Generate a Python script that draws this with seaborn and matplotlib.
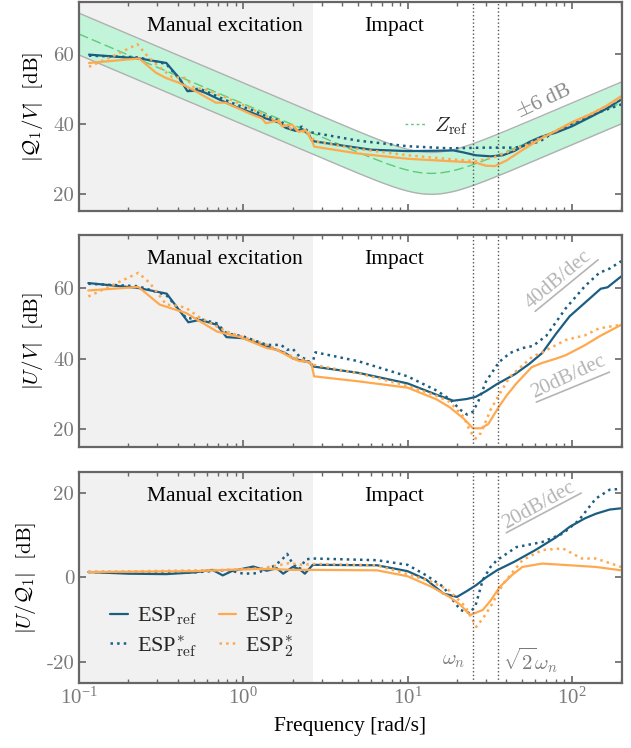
import numpy as np
import pandas as pd
import matplotlib
matplotlib.use("Agg")
import matplotlib.pyplot as plt
import matplotlib.transforms as mtransforms
from matplotlib.lines import Line2D
import seaborn as sns

# ---------------- data ----------------
# reference impedance Z_ref [dB]
z_f = [0.1, 0.15, 0.2, 0.3, 0.5, 1, 1.5, 2, 3, 4, 5, 6, 7, 8, 9, 10, 11, 12, 13, 14, 15, 16, 18, 20,
       22, 25, 30, 35, 40, 50, 60, 70, 80, 100, 120, 150, 200]
z_v = [65.80, 62.28, 59.78, 56.25, 51.81, 45.80, 42.28, 39.78, 36.26, 33.77, 31.86, 30.34, 29.11, 28.12,
       27.33, 26.73, 26.29, 26.00, 25.85, 25.80, 25.85, 25.96, 26.35, 26.86, 27.43, 28.30, 29.70, 30.96,
       32.08, 33.99, 35.56, 36.90, 38.06, 40.00, 41.58, 43.52, 46.02]
band_db = 6.0

# |Q1/V|
q_ref_f = [0.115, 0.232, 0.34, 0.407, 0.457, 0.538, 0.59, 0.746, 0.90, 1.13, 1.37, 1.65, 1.81, 2.08, 2.28,
           2.51, 2.63, 2.7, 4, 6, 10, 15, 19, 22, 26, 32, 38, 45, 55, 65, 80, 100, 130, 160, 200]
q_ref_v = [59.9, 58.8, 57.5, 53.2, 49.4, 49.6, 48.9, 46.6, 44.9, 43.2, 41.6, 40.4, 38.9, 38.0, 38.5,
           36.9, 35.1, 35.0, 33.8, 32.6, 32.2, 32.3, 32.4, 31.8, 31.0, 30.7, 31.0, 32.3, 34.8, 36.3, 37.5,
           39.3, 42.0, 44.2, 47.0]
q_refs_f = [0.115, 0.23, 0.34, 0.41, 0.46, 0.54, 0.6, 0.75, 0.9, 1.13, 1.37, 1.65, 1.8, 2.08, 2.28, 2.5,
            2.65, 5, 10, 18, 30, 45, 55, 65, 80, 100, 130, 160, 200]
q_refs_v = [59.6, 59.1, 57.2, 52.8, 49.8, 50.1, 49.3, 47.2, 45.6, 44.0, 42.3, 41.0, 39.8, 38.8, 39.2, 37.8,
            37.5, 35.2, 33.6, 33.0, 33.2, 33.2, 34.0, 35.2, 38.0, 40.0, 42.5, 44.0, 45.6]
q2_f = [0.115, 0.232, 0.294, 0.338, 0.407, 0.49, 0.68, 0.78, 1.13, 1.30, 1.37, 1.65, 1.72, 1.98, 2.18,
        2.39, 2.63, 2.7, 5, 10, 20, 26, 30, 34, 40, 50, 65, 80, 100, 130, 160, 200]
q2_v = [57.5, 58.8, 54.7, 53.2, 51.8, 49.9, 46.1, 46.1, 42.7, 41.6, 40.2, 41.0, 39.3, 39.8, 37.7,
        38.3, 35.0, 33.5, 31.5, 30.0, 29.2, 28.9, 28.0, 27.9, 29.5, 32.5, 35.8, 38.0, 40.5, 42.8, 45.0, 48.0]
q2s_f = [0.115, 0.16, 0.227, 0.255, 0.30, 0.37, 0.447, 0.50, 0.59, 0.78, 1.13, 1.37, 1.65, 1.98, 2.39,
         2.63, 2.7, 5, 10, 20, 26, 34, 40, 50, 65, 80, 100, 130, 160, 200]
q2s_v = [56.4, 59.4, 62.9, 60.0, 56.8, 53.4, 53.2, 50.5, 49.9, 47.6, 44.3, 42.3, 40.4, 38.5, 37.7,
         36.6, 35.0, 32.8, 31.0, 29.7, 29.3, 30.5, 31.8, 33.5, 36.0, 38.0, 40.3, 42.8, 45.0, 47.5]

# |U/V|
u_ref_f = [0.114, 0.23, 0.342, 0.463, 0.545, 0.69, 0.79, 1.0, 1.39, 1.8, 2.0, 2.37, 2.5, 2.65,
           5, 10, 15, 19, 23, 26, 30, 35, 45, 55, 66, 80, 97, 120, 150, 165, 200]
u_ref_v = [61.4, 60.0, 58.4, 50.3, 51.0, 49.6, 46.1, 45.8, 43.5, 41.6, 40.1, 39.2, 39.3, 37.8,
           36.0, 33.0, 29.8, 28.1, 28.6, 29.2, 30.8, 32.8, 35.6, 38.5, 41.6, 47.0, 52.0, 55.8, 59.8, 60.2, 63.3]
u_refs_f = [0.114, 0.23, 0.34, 0.45, 0.55, 0.69, 0.79, 1.0, 1.39, 1.7, 1.85, 2.0, 2.2, 2.45, 2.6, 2.75,
            5, 10, 15, 18, 21, 23, 25, 27, 30, 36, 42, 50, 58, 70, 92, 120, 147, 170, 200]
u_refs_v = [61.2, 60.5, 58.0, 51.5, 51.2, 50.0, 47.2, 46.3, 43.9, 43.9, 42.5, 42.8, 40.6, 39.7, 37.8, 41.8,
            39.3, 35.0, 31.0, 28.6, 25.5, 24.2, 25.0, 28.0, 33.5, 39.0, 41.6, 43.0, 43.6, 46.5, 54.3, 60.5,
            64.3, 65.5, 67.6]
u2_f = [0.114, 0.23, 0.31, 0.45, 0.69, 0.96, 1.39, 1.6, 2.0, 2.2, 2.43, 2.6, 2.7, 5, 10, 15, 18, 22, 25,
        28, 31, 36, 40, 46, 57, 66, 80, 92, 120, 147, 200]
u2_v = [59.3, 60.3, 55.3, 52.9, 47.7, 46.1, 43.0, 42.5, 40.1, 39.3, 39.2, 38.5, 35.0, 33.6, 31.8, 28.5,
        26.3, 23.0, 20.3, 20.3, 21.5, 26.4, 29.5, 33.0, 37.6, 38.8, 40.0, 41.0, 43.8, 46.3, 49.6]
u2s_f = [0.114, 0.23, 0.27, 0.34, 0.40, 0.45, 0.55, 0.79, 1.39, 2.0, 2.4, 2.65, 5, 10, 15, 18, 22, 24,
         26, 28, 32, 36, 42, 57.6, 66, 92, 120, 147, 200]
u2s_v = [57.6, 64.3, 61.4, 55.3, 55.0, 54.3, 51.5, 47.7, 43.9, 40.6, 39.5, 38.3, 35.9, 32.3, 29.5, 27.8,
         23.5, 19.5, 17.4, 19.0, 25.5, 29.7, 34.9, 40.6, 41.8, 45.3, 46.6, 48.6, 49.6]

# |U/Q1|
r_ref_f = [0.114, 0.2, 0.34, 0.5, 0.65, 0.75, 0.85, 1.15, 1.39, 1.6, 1.75, 2.0, 2.2, 2.37, 2.65,
           6.5, 10, 13, 16.5, 20, 23, 26.2, 30, 35, 45, 60, 80, 97, 120, 140, 170, 200]
r_ref_v = [1.3, 0.9, 0.8, 1.2, 1.8, 0.5, 1.5, 2.6, 1.6, 2.2, 0.9, 2.5, 2.0, 0.9, 3.0,
           2.9, 1.5, -0.5, -3.8, -4.6, -3.2, -1.8, 0.0, 1.7, 3.8, 6.5, 9.5, 12.0, 14.0, 15.1, 16.1, 16.4]
r_refs_f = [0.114, 0.5, 0.8, 1.0, 1.2, 1.5, 1.7, 1.85, 2.0, 2.2, 2.4, 2.65, 6.5, 10, 13, 16.5, 19, 21,
            24, 26, 28.7, 32, 35, 46, 66, 88, 110, 140, 170, 200]
r_refs_v = [1.3, 1.2, 1.8, 0.9, 1.0, 2.5, 4.0, 5.6, 3.2, 2.0, 4.3, 4.5, 4.1, 3.0, 0.5, -2.2, -5.5, -7.7,
            -8.5, -6.5, -0.6, 2.5, 4.1, 7.2, 8.4, 10.4, 13.5, 18.7, 20.8, 21.0]
r2_f = [0.114, 0.5, 0.8, 1.2, 1.5, 2.0, 2.65, 6.5, 10, 14, 18, 21, 24, 28.7, 32, 36.5, 43, 50, 66, 97,
        140, 200]
r2_v = [1.3, 1.5, 1.8, 2.0, 2.0, 1.8, 1.8, 1.7, 0.3, -2.2, -4.6, -6.5, -8.9, -7.7, -5.5, -2.2, 0.5, 2.5,
        3.3, 2.9, 2.5, 1.7]
r2s_f = [0.114, 0.8, 1.3, 1.6, 1.9, 2.3, 2.65, 6.5, 10, 14, 17.8, 22.5, 26.2, 29, 32, 38.4, 50, 66, 88,
         115, 140, 200]
r2s_v = [1.3, 1.8, 2.2, 2.8, 3.4, 3.0, 3.2, 2.9, 0.8, -1.0, -3.0, -6.9, -11.7, -9.5, -6.9, -1.4, 4.1, 6.5,
         6.9, 4.5, 4.5, 2.5]

series_labels = [r"ESP$_\mathrm{ref}$", r"ESP$^{*}_\mathrm{ref}$", r"ESP$_2$", r"ESP$^{*}_2$"]
ylabels = [r"$|\mathcal{Q}_1/V|\ \ [\mathrm{dB}]$", r"$|U/V|\ \ [\mathrm{dB}]$",
           r"$|U/\mathcal{Q}_1|\ \ [\mathrm{dB}]$"]
region_labels = ["Manual excitation", "Impact"]
manual_end = 2.65
omega_n = 25.2

# ---------------- style ----------------
sns.set_theme(style="ticks")
plt.rcParams.update({
    "font.family": ["Liberation Serif", "DejaVu Serif"],
    "mathtext.fontset": "cm",
    "axes.unicode_minus": False,
    "axes.edgecolor": "#666666",
    "axes.linewidth": 1.6,
    "xtick.color": "#666666",
    "ytick.color": "#666666",
    "xtick.labelcolor": "#7a7a7a",
    "ytick.labelcolor": "#7a7a7a",
    "xtick.direction": "in",
    "ytick.direction": "in",
    "xtick.top": True,
    "ytick.right": True,
    "xtick.major.size": 5,
    "xtick.minor.size": 3,
    "ytick.major.size": 5,
    "xtick.major.width": 1.2,
    "xtick.minor.width": 1.0,
    "ytick.major.width": 1.2,
    "font.size": 15,
    "xtick.labelsize": 15,
    "ytick.labelsize": 15,
})

BLUE = "#1b5e82"
ORANGE = "#ffa94f"
GREEN_FILL = "#c2f4d9"
GREEN_LINE = "#5fca7c"
GREY_TXT = "#b5b5b5"

fig = plt.figure(figsize=(6.31, 7.48), dpi=100)
left, width = 0.1252, 0.8605
boxes = [(0.7179, 0.2794), (0.4024, 0.2834), (0.0869, 0.2821)]
axes = [fig.add_axes([left, b, width, h]) for b, h in boxes]

panels = [
    [(q_ref_f, q_ref_v), (q_refs_f, q_refs_v), (q2_f, q2_v), (q2s_f, q2s_v)],
    [(u_ref_f, u_ref_v), (u_refs_f, u_refs_v), (u2_f, u2_v), (u2s_f, u2s_v)],
    [(r_ref_f, r_ref_v), (r_refs_f, r_refs_v), (r2_f, r2_v), (r2s_f, r2s_v)],
]
colors = [BLUE, BLUE, ORANGE, ORANGE]
styles = ["-", ":", "-", ":"]
widths = [1.6, 1.8, 1.6, 1.8]
ylims = [(15, 75), (15, 75), (-25, 25)]
yticks = [[20, 40, 60], [20, 40, 60], [-20, 0, 20]]

for i, ax in enumerate(axes):
    ax.set_xscale("log")
    ax.set_xlim(0.1, 202)
    ax.set_ylim(*ylims[i])
    ax.set_yticks(yticks[i])
    ax.set_yticklabels([str(t) for t in yticks[i]], fontfamily="cmr10", fontsize=15)
    ax.axvspan(0.1, manual_end, color="#f1f1f1", zorder=0, lw=0)
    if i == 0:
        zv = np.array(z_v)
        ax.fill_between(z_f, zv - band_db, zv + band_db, color=GREEN_FILL, lw=0, zorder=1)
        ax.plot(z_f, zv - band_db, color="#b0b0b0", lw=1.0, zorder=1.5)
        ax.plot(z_f, zv + band_db, color="#b0b0b0", lw=1.0, zorder=1.5)
        sns.lineplot(x=z_f, y=z_v, ax=ax, color=GREEN_LINE, lw=1.0, dashes=False,
                     linestyle=(0, (7, 3)), zorder=2, estimator=None)
    for (f, v), c, ls, lw, lab in zip(panels[i], colors, styles, widths, series_labels):
        sns.lineplot(x=f, y=v, ax=ax, color=c, lw=lw, linestyle=ls, label=lab,
                     estimator=None, sort=True, zorder=3)
    ax.axvline(omega_n, color="#555555", ls=":", lw=1.0, zorder=4)
    ax.axvline(np.sqrt(2) * omega_n, color="#555555", ls=":", lw=1.0, zorder=4)
    ax.set_ylabel(ylabels[i], fontsize=15, color="black", labelpad=6)
    trans = mtransforms.blended_transform_factory(ax.transData, ax.transAxes)
    ax.text(0.774, 0.885, region_labels[0], transform=trans, ha="center", va="center",
            fontsize=15.5, color="black", zorder=5)
    ax.text(8.24, 0.885, region_labels[1], transform=trans, ha="center", va="center",
            fontsize=15.5, color="black", zorder=5)
    if i < 2:
        ax.tick_params(labelbottom=False)
        ax.set_xlabel("")
    if ax.get_legend():
        ax.get_legend().remove()
    for sp in ax.spines.values():
        sp.set_zorder(6)

# top panel annotations
ax0 = axes[0]
zh = [Line2D([], [], color=GREEN_LINE, lw=1.0, linestyle=(0, (2, 2)))]
ax0.legend(zh, [r"$Z_\mathrm{ref}$"], loc="center left", bbox_to_anchor=(0.565, 0.405),
           frameon=False, handlelength=1.0, handletextpad=0.4, fontsize=15)
ax0.text(68, 46.3, r"$\pm$6 dB", rotation=25, ha="center", va="center", color="#8a8a8a",
         fontsize=15.5, rotation_mode="anchor", zorder=5)

# middle panel slope annotations
ax1 = axes[1]
ax1.plot([59.8, 144.6], [53.4, 68.0], color=GREY_TXT, lw=1.2, zorder=5)
ax1.text(83, 62.3, "40dB/dec", rotation=40, ha="center", va="center", color=GREY_TXT,
         fontsize=15, rotation_mode="anchor", zorder=5)
ax1.plot([60.8, 169.5], [27.7, 36.2], color=GREY_TXT, lw=1.2, zorder=5)
ax1.text(95, 34.8, "20dB/dec", rotation=25, ha="center", va="center", color=GREY_TXT,
         fontsize=15, rotation_mode="anchor", zorder=5)

# bottom panel annotations
ax2 = axes[2]
ax2.plot([39.9, 114], [10.6, 20.0], color=GREY_TXT, lw=1.2, zorder=5)
ax2.text(63, 17.0, "20dB/dec", rotation=29, ha="center", va="center", color=GREY_TXT,
         fontsize=15, rotation_mode="anchor", zorder=5)
ax2.text(22.5, -19.6, r"$\omega_n$", ha="right", va="center", color="#7a7a7a", fontsize=15, zorder=5)
ax2.text(38.3, -19.6, r"$\sqrt{2}\omega_n$", ha="left", va="center", color="#7a7a7a", fontsize=15,
         zorder=5)
handles = [Line2D([], [], color=c, lw=lw, linestyle=ls) for c, ls, lw in zip(colors, styles, widths)]
ax2.legend(handles, series_labels, ncol=2, loc="lower left", bbox_to_anchor=(0.02, 0.02),
           frameon=False, handlelength=0.8, handletextpad=0.4, columnspacing=1.0,
           labelspacing=0.25, fontsize=16)
ax2.set_xlabel("Frequency [rad/s]", fontsize=15.5, color="black", labelpad=6)

fig.savefig("out.png", dpi=100)
